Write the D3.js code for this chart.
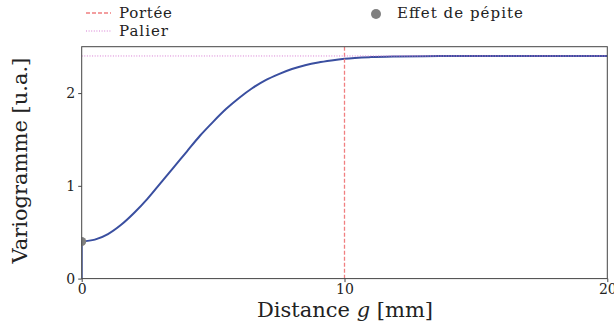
<!DOCTYPE html>
<html>
<head>
<meta charset="utf-8">
<script src="https://cdn.jsdelivr.net/npm/d3@7"></script>
<style>
  body { margin: 0; background: #fff; }
  svg { display: block; }
</style>
</head>
<body>
<div id="chart-area"><svg></svg></div>
<script>
const chartSize = { width: 614, height: 327 };
const margin = { left: 81.7, right: 6.7, top: 46.7, bottom: 48.4 };
const width = chartSize.width - margin.left - margin.right;
const height = chartSize.height - margin.top - margin.bottom;
const serif = '"DejaVu Serif", "Liberation Serif", serif';

// distance [mm] and variogram values
const distances = [0, 0.5, 1, 1.5, 2, 2.5, 3, 3.5, 4, 4.5, 5, 5.5, 6, 6.5, 7, 7.5, 8, 8.5, 9, 9.5, 10, 11, 12, 13, 14, 15, 16, 17, 18, 19, 20];
const gamma = [0.40, 0.42, 0.48, 0.58, 0.71, 0.86, 1.03, 1.20, 1.37, 1.54, 1.69, 1.83, 1.95, 2.055, 2.14, 2.205, 2.26, 2.30, 2.33, 2.352, 2.37, 2.388, 2.395, 2.398, 2.399, 2.40, 2.40, 2.40, 2.40, 2.40, 2.40];
const nugget = 0.4;
const sill = 2.4;
const range = 10;
const xTicks = [0, 10, 20];
const yTicks = [0, 1, 2];
const xDomain = [0, 20];
const yDomain = [0, 2.5];

const svg = d3.select('#chart-area svg')
    .attr('width', chartSize.width)
    .attr('height', chartSize.height);

svg.append('defs').append('clipPath')
    .attr('id', 'plot-clip')
    .append('rect')
    .attr('x', 0).attr('y', 0)
    .attr('width', width).attr('height', height);

const g = svg.append('g')
    .attr('transform', `translate(${margin.left},${margin.top})`);

const x = d3.scaleLinear().domain(xDomain).range([0, width]);
const y = d3.scaleLinear().domain(yDomain).range([height, 0]);

const plot = g.append('g').attr('clip-path', 'url(#plot-clip)');

// nugget jump at the origin
plot.append('line')
    .attr('x1', x(0)).attr('x2', x(0))
    .attr('y1', y(0)).attr('y2', y(nugget))
    .attr('stroke', '#3a4fa0')
    .attr('stroke-width', 2);

const line = d3.line()
    .x((d, i) => x(distances[i]))
    .y(d => y(d))
    .curve(d3.curveMonotoneX);

plot.append('path')
    .datum(gamma)
    .attr('fill', 'none')
    .attr('stroke', '#3a4fa0')
    .attr('stroke-width', 2)
    .attr('d', line);

// range (portée)
plot.append('line')
    .attr('x1', x(range)).attr('x2', x(range))
    .attr('y1', 0).attr('y2', height)
    .attr('stroke', '#f07f80')
    .attr('stroke-width', 1.3)
    .attr('stroke-dasharray', '4,2');

// sill (palier)
plot.append('line')
    .attr('x1', 0).attr('x2', width)
    .attr('y1', y(sill)).attr('y2', y(sill))
    .attr('stroke', '#d77cd3')
    .attr('stroke-width', 1)
    .attr('stroke-dasharray', '1,1.6');

plot.append('circle')
    .attr('cx', x(0))
    .attr('cy', y(nugget))
    .attr('r', 4.5)
    .attr('fill', '#808080');

// frame
g.append('rect')
    .attr('width', width).attr('height', height)
    .attr('fill', 'none')
    .attr('stroke', '#444')
    .attr('stroke-width', 1);

const x_axis = d3.axisBottom(x).tickValues(xTicks).tickFormat(d3.format('d'))
    .tickSize(3.5).tickPadding(1.5);
const y_axis = d3.axisLeft(y).tickValues(yTicks).tickFormat(d3.format('d'))
    .tickSize(3.5).tickPadding(3);

const styleAxis = a => {
    a.select('.domain').remove();
    a.selectAll('line').attr('stroke', '#444');
    a.selectAll('text')
        .attr('font-family', serif)
        .attr('font-size', 14)
        .attr('fill', '#222');
};

g.append('g')
    .attr('transform', `translate(0,${height})`)
    .call(x_axis)
    .call(styleAxis);

g.append('g')
    .call(y_axis)
    .call(styleAxis);

// axis labels
const xl = svg.append('text')
    .attr('x', 345)
    .attr('y', 317)
    .attr('text-anchor', 'middle')
    .attr('font-family', serif)
    .attr('font-size', 21)
    .attr('fill', '#222');
xl.append('tspan').text('Distance ');
xl.append('tspan').attr('font-style', 'italic').text('g');
xl.append('tspan').text(' [mm]');

svg.append('text')
    .attr('transform', `translate(27,${margin.top + height / 2 - 2}) rotate(-90)`)
    .attr('text-anchor', 'middle')
    .attr('font-family', serif)
    .attr('font-size', 21)
    .attr('fill', '#222')
    .text('Variogramme [u.a.]');

// legend
const legend = svg.append('g');

const legendText = (tx, ty, label, len) => legend.append('text')
    .attr('x', tx).attr('y', ty)
    .attr('font-family', serif)
    .attr('font-size', 15)
    .attr('fill', '#222')
    .attr('textLength', len)
    .attr('lengthAdjust', 'spacing')
    .text(label);

legend.append('line')
    .attr('x1', 86).attr('x2', 111).attr('y1', 13).attr('y2', 13)
    .attr('stroke', '#f07f80').attr('stroke-width', 1.3)
    .attr('stroke-dasharray', '4,2');
legendText(119, 18, 'Portée', 53);

legend.append('line')
    .attr('x1', 86).attr('x2', 111).attr('y1', 31).attr('y2', 31)
    .attr('stroke', '#d77cd3').attr('stroke-width', 1)
    .attr('stroke-dasharray', '1,1.6');
legendText(119, 36, 'Palier', 49);

legend.append('circle')
    .attr('cx', 376).attr('cy', 14).attr('r', 5)
    .attr('fill', '#808080');
legendText(397, 18, 'Effet de pépite', 126);
</script>
</body>
</html>
